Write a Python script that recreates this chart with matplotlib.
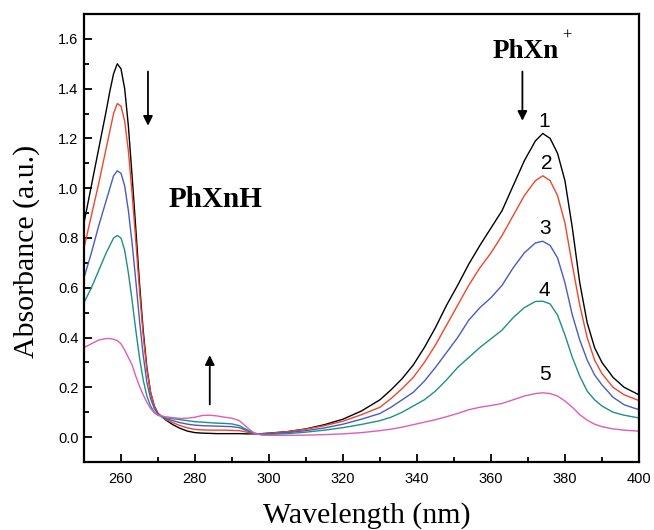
import matplotlib
matplotlib.use("Agg")
import matplotlib.pyplot as plt
from matplotlib.ticker import MultipleLocator

# Wavelength grid (nm) shared by all spectra
wavelength = [250, 252, 254, 256, 257, 258, 259, 260, 261, 262, 263, 264, 265, 266, 267,
              268, 269, 270, 272, 274, 276, 278, 280, 282, 284, 286, 288, 290, 292, 294,
              296, 298, 300, 305, 310, 315, 320, 325, 330, 333, 336, 339, 342, 345, 348,
              351, 354, 357, 360, 363, 366, 369, 372, 374, 376, 378, 380, 382, 384, 386,
              388, 390, 393, 396, 400]

abs_1 = [0.86, 1.01, 1.16, 1.31, 1.39, 1.46, 1.50, 1.48, 1.40, 1.25, 1.05, 0.84, 0.62, 0.43, 0.28,
         0.18, 0.125, 0.095, 0.07, 0.05, 0.035, 0.024, 0.018, 0.016, 0.015, 0.014, 0.014, 0.014, 0.014, 0.013,
         0.013, 0.014, 0.016, 0.022, 0.033, 0.05, 0.072, 0.105, 0.15, 0.19, 0.235, 0.29, 0.36, 0.44, 0.53,
         0.61, 0.695, 0.77, 0.84, 0.91, 1.01, 1.11, 1.19, 1.22, 1.20, 1.14, 1.03, 0.84, 0.62, 0.46,
         0.36, 0.30, 0.24, 0.20, 0.17]

abs_2 = [0.76, 0.89, 1.02, 1.16, 1.23, 1.30, 1.34, 1.33, 1.27, 1.15, 0.98, 0.79, 0.59, 0.41, 0.27,
         0.18, 0.125, 0.095, 0.072, 0.058, 0.046, 0.037, 0.031, 0.029, 0.028, 0.028, 0.028, 0.027, 0.026, 0.02,
         0.014, 0.013, 0.015, 0.022, 0.032, 0.046, 0.064, 0.09, 0.12, 0.155, 0.195, 0.24, 0.30, 0.37, 0.45,
         0.53, 0.61, 0.68, 0.74, 0.81, 0.89, 0.97, 1.03, 1.05, 1.03, 0.97, 0.86, 0.69, 0.53, 0.40,
         0.31, 0.255, 0.20, 0.17, 0.147]

abs_3 = [0.64, 0.74, 0.85, 0.95, 1.00, 1.05, 1.07, 1.06, 1.01, 0.91, 0.78, 0.63, 0.47, 0.33, 0.22,
         0.155, 0.115, 0.092, 0.075, 0.066, 0.058, 0.052, 0.048, 0.046, 0.045, 0.044, 0.043, 0.042, 0.038, 0.026,
         0.015, 0.012, 0.013, 0.018, 0.026, 0.037, 0.052, 0.072, 0.095, 0.12, 0.15, 0.18, 0.225, 0.28, 0.34,
         0.40, 0.47, 0.52, 0.56, 0.61, 0.68, 0.74, 0.78, 0.787, 0.77, 0.72, 0.62, 0.49, 0.39, 0.31,
         0.25, 0.21, 0.16, 0.13, 0.11]

abs_4 = [0.54, 0.60, 0.67, 0.74, 0.77, 0.80, 0.81, 0.80, 0.75, 0.66, 0.55, 0.43, 0.32, 0.23, 0.165,
         0.125, 0.10, 0.088, 0.078, 0.074, 0.07, 0.066, 0.062, 0.06, 0.058, 0.056, 0.055, 0.053, 0.046, 0.03,
         0.016, 0.011, 0.011, 0.014, 0.02, 0.028, 0.038, 0.051, 0.066, 0.08, 0.10, 0.125, 0.15, 0.185, 0.23,
         0.28, 0.32, 0.36, 0.395, 0.43, 0.48, 0.52, 0.545, 0.546, 0.535, 0.49, 0.41, 0.32, 0.245, 0.185,
         0.15, 0.125, 0.10, 0.088, 0.077]

abs_5 = [0.36, 0.375, 0.39, 0.396, 0.396, 0.393, 0.388, 0.375, 0.35, 0.32, 0.29, 0.245, 0.205, 0.17, 0.14,
         0.115, 0.098, 0.088, 0.082, 0.078, 0.075, 0.076, 0.08, 0.087, 0.088, 0.085, 0.08, 0.076, 0.066, 0.04,
         0.016, 0.008, 0.007, 0.007, 0.008, 0.01, 0.013, 0.018, 0.026, 0.032, 0.04, 0.05, 0.06, 0.07, 0.082,
         0.095, 0.11, 0.12, 0.127, 0.135, 0.15, 0.165, 0.175, 0.178, 0.175, 0.165, 0.145, 0.12, 0.09, 0.068,
         0.052, 0.042, 0.033, 0.028, 0.024]

spectra = [abs_1, abs_2, abs_3, abs_4, abs_5]
curve_labels = ["1", "2", "3", "4", "5"]
colors = ["#000000", "#F2452A", "#4A5BC0", "#1F8F86", "#E05CB8"]
label_pos = [(374.5, 1.27), (375, 1.10), (374.5, 0.84), (374.5, 0.59), (374.5, 0.25)]

plt.rcParams["font.family"] = ["Liberation Sans", "DejaVu Sans"]

fig = plt.figure(figsize=(6.54, 5.30), dpi=100)
ax = fig.add_axes([0.1284, 0.1283, 0.8486, 0.8453])

for y, c in zip(spectra, colors):
    ax.plot(wavelength, y, color=c, lw=1.0)

for lab, (x, y) in zip(curve_labels, label_pos):
    ax.text(x, y, lab, fontsize=15, ha="center", va="center")

ax.set_xlim(250, 400)
ax.set_ylim(-0.1, 1.7)
ax.xaxis.set_major_locator(MultipleLocator(20))
ax.xaxis.set_minor_locator(MultipleLocator(10))
ax.yaxis.set_minor_locator(MultipleLocator(0.1))
ax.set_yticks([0.0, 0.2, 0.4, 0.6, 0.8, 1.0, 1.2, 1.4, 1.6])
ax.set_yticklabels(["0.0", "0.2", "0.4", "0.6", "0.8", "1.0", "1.2", "1.4", "1.6"])
ax.tick_params(which="both", direction="in", width=1.3, labelsize=10.5)
ax.tick_params(which="major", length=6)
ax.tick_params(which="minor", length=3.5)
ax.tick_params(axis="x", pad=7)
ax.tick_params(axis="y", pad=4)
for s in ax.spines.values():
    s.set_linewidth(1.6)

serif = ["Liberation Serif", "DejaVu Serif"]
ax.set_xlabel("Wavelength (nm)", fontsize=21.5, family=serif)
ax.set_ylabel("Absorbance (a.u.)", fontsize=21.5, family=serif)
ax.xaxis.set_label_coords(0.51, -0.09)
ax.yaxis.set_label_coords(-0.08, 0.47)

arrow = dict(arrowstyle="-|>", lw=1.3, color="k", mutation_scale=14)
ax.annotate("", xy=(267.3, 1.24), xytext=(267.3, 1.48), arrowprops=arrow)
ax.annotate("", xy=(368.5, 1.26), xytext=(368.5, 1.48), arrowprops=arrow)
ax.annotate("", xy=(284, 0.34), xytext=(284, 0.12), arrowprops=arrow)

ax.text(369.5, 1.548, "PhXn", fontsize=19.5, family=serif, weight="bold",
        ha="center", va="center")
ax.text(380.6, 1.615, "+", fontsize=12, family=serif, ha="center", va="center")
ax.text(285.5, 0.955, "PhXnH", fontsize=21, family=serif, weight="bold",
        ha="center", va="center")

fig.savefig("out.png", dpi=100)
